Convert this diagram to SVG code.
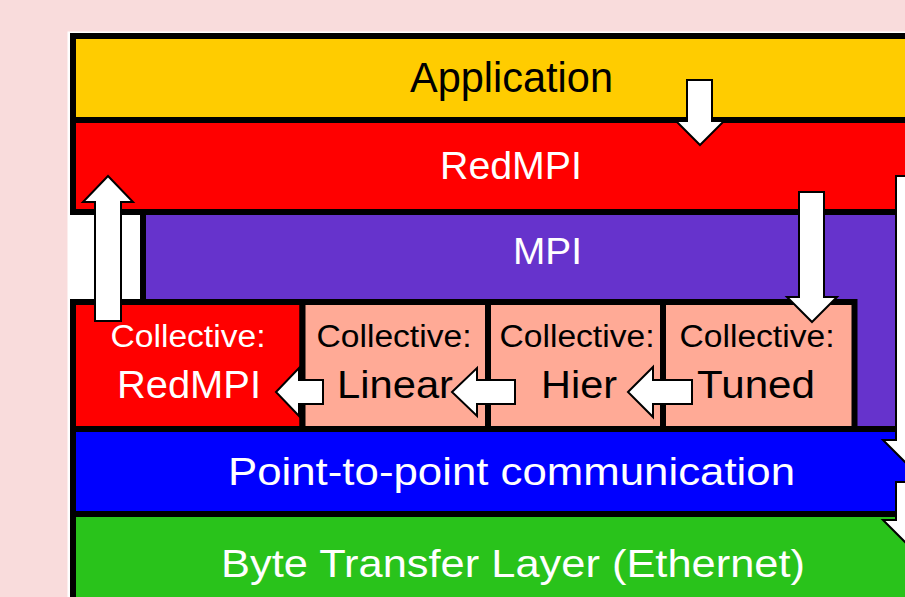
<svg xmlns="http://www.w3.org/2000/svg" width="905" height="597" viewBox="0 0 905 597">
<style>
.box{stroke:#000;stroke-width:6}
.t{font-family:"Liberation Sans",Arial,sans-serif;text-anchor:middle}
.w{fill:#fff}
.k{fill:#000}
.arr{fill:#fff;stroke:#000;stroke-width:2;stroke-linejoin:miter}
</style>
<rect x="0" y="0" width="905" height="597" fill="#F9DCDC"/>
<rect x="67.5" y="31.5" width="850" height="580" fill="#fff"/>
<g id="application">
<rect class="box" x="73" y="36" width="850" height="84" fill="#FFCC00"/>
<text class="t k" x="511.5" y="92" font-size="43" textLength="203" lengthAdjust="spacingAndGlyphs">Application</text>
</g>
<g id="redmpi">
<rect class="box" x="73" y="120" width="850" height="92" fill="#FF0000"/>
<text class="t w" x="511" y="179" font-size="38" textLength="142" lengthAdjust="spacingAndGlyphs">RedMPI</text>
</g>
<g id="mpi">
<rect class="box" x="143" y="212" width="800" height="217" fill="#6633CC"/>
<text class="t w" x="547.5" y="264" font-size="37" textLength="69" lengthAdjust="spacingAndGlyphs">MPI</text>
</g>
<g id="coll-redmpi">
<rect class="box" x="73" y="302" width="229.5" height="127" fill="#FF0000"/>
<text class="t w" x="188" y="347" font-size="31" textLength="155" lengthAdjust="spacingAndGlyphs">Collective:</text>
<text class="t w" x="189" y="398" font-size="39" textLength="144" lengthAdjust="spacingAndGlyphs">RedMPI</text>
</g>
<g id="coll-linear">
<rect class="box" x="302.5" y="302" width="185.5" height="127" fill="#FFAA96"/>
<text class="t k" x="394" y="347" font-size="31" textLength="155" lengthAdjust="spacingAndGlyphs">Collective:</text>
<text class="t k" x="395" y="398" font-size="39" textLength="116" lengthAdjust="spacingAndGlyphs">Linear</text>
</g>
<g id="coll-hier">
<rect class="box" x="488" y="302" width="175" height="127" fill="#FFAA96"/>
<text class="t k" x="577" y="347" font-size="31" textLength="155" lengthAdjust="spacingAndGlyphs">Collective:</text>
<text class="t k" x="579" y="398" font-size="39" textLength="76" lengthAdjust="spacingAndGlyphs">Hier</text>
</g>
<g id="coll-tuned">
<rect class="box" x="663" y="302" width="191.5" height="127" fill="#FFAA96"/>
<text class="t k" x="757" y="347" font-size="31" textLength="155" lengthAdjust="spacingAndGlyphs">Collective:</text>
<text class="t k" x="756" y="398" font-size="39" textLength="118" lengthAdjust="spacingAndGlyphs">Tuned</text>
</g>
<g id="p2p">
<rect class="box" x="73" y="429" width="850" height="85" fill="#0000FF"/>
<text class="t w" x="511.5" y="485" font-size="38" textLength="567" lengthAdjust="spacingAndGlyphs">Point-to-point communication</text>
</g>
<g id="btl">
<rect class="box" x="73" y="514" width="850" height="100" fill="#29C31B"/>
<text class="t w" x="513" y="577" font-size="39" textLength="584" lengthAdjust="spacingAndGlyphs">Byte Transfer Layer (Ethernet)</text>
</g>
<g id="connectors">
<polygon class="arr" points="687,80 712,80 712,121 724,121 700,145 676,121 687,121"/>
<polygon class="arr" points="108,176 133,202 121,202 121,321 95,321 95,202 83,202"/>
<polygon class="arr" points="799,192 824,192 824,297 837,297 812,322 787,297 799,297"/>
<polygon class="arr" points="896,176 921,176 921,440 934,440 908.5,465.5 883,440 896,440"/>
<polygon class="arr" points="896,482 921,482 921,520 934,520 908.5,545.5 883,520 896,520"/>
<polygon class="arr" points="276,392 299,368 299,380 323,380 323,404 299,404 299,416"/>
<polygon class="arr" points="452,392 477,368 477,380 515,380 515,404 477,404 477,416"/>
<polygon class="arr" points="628,392 653,367 653,380 692,380 692,404 653,404 653,417"/>
</g>
</svg>
